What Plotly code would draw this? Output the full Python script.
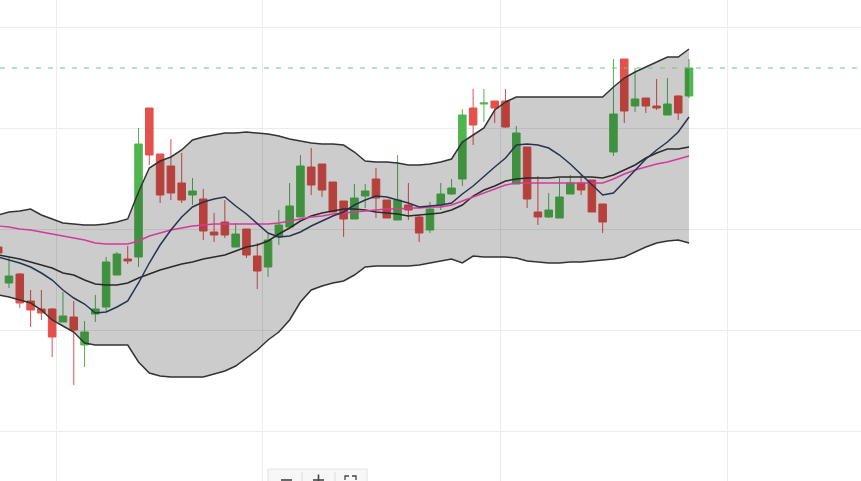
import plotly.graph_objects as go

# ---------------- data ----------------
idx = list(range(65))

opens = [1.1253, 1.1217, 1.1226, 1.1199, 1.1191, 1.1191, 1.1178, 1.1183, 1.1155, 1.1186,
         1.1193, 1.1225, 1.1241, 1.1243, 1.1392, 1.1346, 1.1334, 1.1317, 1.1305, 1.1301,
         1.1268, 1.1278, 1.1253, 1.1271, 1.1244, 1.1233, 1.1263, 1.1273, 1.1283, 1.1333,
         1.1336, 1.1318, 1.1299, 1.1281, 1.1304, 1.1321, 1.1300, 1.1280, 1.1295, 1.1283,
         1.1270, 1.1295, 1.1306, 1.1321, 1.1392, 1.1396, 1.1399, 1.1399, 1.1316, 1.1353,
         1.1288, 1.1283, 1.1282, 1.1306, 1.1317, 1.1320, 1.1296, 1.1348, 1.1441, 1.1394,
         1.1402, 1.1394, 1.1385, 1.1404, 1.1404]
highs = [1.1255, 1.1243, 1.1227, 1.1210, 1.1210, 1.1192, 1.1208, 1.1199, 1.1179, 1.1205,
         1.1243, 1.1248, 1.1254, 1.1372, 1.1392, 1.1346, 1.1361, 1.1347, 1.1322, 1.1311,
         1.1287, 1.1300, 1.1277, 1.1271, 1.1257, 1.1266, 1.1290, 1.1317, 1.1345, 1.1352,
         1.1336, 1.1318, 1.1299, 1.1316, 1.1316, 1.1332, 1.1300, 1.1345, 1.1317, 1.1285,
         1.1298, 1.1317, 1.1321, 1.1391, 1.1411, 1.1411, 1.1399, 1.1411, 1.1374, 1.1353,
         1.1324, 1.1307, 1.1322, 1.1325, 1.1325, 1.1320, 1.1296, 1.1441, 1.1441, 1.1432,
         1.1402, 1.1421, 1.1422, 1.1405, 1.1441]
lows = [1.1245, 1.1212, 1.1192, 1.1173, 1.1180, 1.1143, 1.1178, 1.1115, 1.1133, 1.1178,
        1.1188, 1.1225, 1.1236, 1.1233, 1.1335, 1.1297, 1.1300, 1.1297, 1.1295, 1.1260,
        1.1258, 1.1262, 1.1253, 1.1242, 1.1211, 1.1223, 1.1255, 1.1273, 1.1283, 1.1305,
        1.1303, 1.1288, 1.1263, 1.1281, 1.1292, 1.1282, 1.1282, 1.1280, 1.1280, 1.1258,
        1.1267, 1.1290, 1.1305, 1.1314, 1.1355, 1.1378, 1.1377, 1.1372, 1.1316, 1.1292,
        1.1275, 1.1282, 1.1282, 1.1306, 1.1305, 1.1288, 1.1267, 1.1344, 1.1377, 1.1388,
        1.1387, 1.1390, 1.1385, 1.1380, 1.1402]
closes = [1.1247, 1.1224, 1.1197, 1.1190, 1.1187, 1.1163, 1.1184, 1.1170, 1.1168, 1.1191,
          1.1238, 1.1246, 1.1239, 1.1356, 1.1345, 1.1305, 1.1307, 1.1300, 1.1309, 1.1269,
          1.1265, 1.1265, 1.1266, 1.1245, 1.1229, 1.1260, 1.1275, 1.1294, 1.1334, 1.1315,
          1.1310, 1.1288, 1.1281, 1.1302, 1.1309, 1.1302, 1.1282, 1.1300, 1.1290, 1.1267,
          1.1291, 1.1306, 1.1312, 1.1385, 1.1375, 1.1397, 1.1392, 1.1373, 1.1367, 1.1301,
          1.1283, 1.1290, 1.1303, 1.1317, 1.1310, 1.1288, 1.1278, 1.1386, 1.1389, 1.1401,
          1.1394, 1.1392, 1.1396, 1.1387, 1.1432]

bb_upper = [1.1285, 1.1288, 1.1289, 1.1291, 1.1285, 1.1281, 1.1277, 1.1276, 1.1275, 1.1275,
            1.1276, 1.1278, 1.1281, 1.1308, 1.1332, 1.1339, 1.1343, 1.1350, 1.1360, 1.1363,
            1.1365, 1.1367, 1.1367, 1.1368, 1.1367, 1.1366, 1.1364, 1.1361, 1.1359, 1.1357,
            1.1356, 1.1356, 1.1355, 1.1348, 1.1339, 1.1338, 1.1338, 1.1337, 1.1335, 1.1335,
            1.1336, 1.1338, 1.1341, 1.1358, 1.1365, 1.1372, 1.1390, 1.1398, 1.1403, 1.1403,
            1.1403, 1.1403, 1.1403, 1.1403, 1.1403, 1.1403, 1.1403, 1.1413, 1.1422, 1.1428,
            1.1433, 1.1438, 1.1443, 1.1443, 1.1451]
bb_lower = [1.1205, 1.1203, 1.1200, 1.1197, 1.1190, 1.1180, 1.1174, 1.1168, 1.1157, 1.1155,
            1.1155, 1.1155, 1.1155, 1.1138, 1.1127, 1.1124, 1.1123, 1.1123, 1.1123, 1.1123,
            1.1126, 1.1129, 1.1134, 1.1142, 1.1150, 1.1160, 1.1168, 1.1180, 1.1198, 1.1210,
            1.1214, 1.1217, 1.1219, 1.1225, 1.1233, 1.1234, 1.1234, 1.1234, 1.1234, 1.1235,
            1.1237, 1.1239, 1.1241, 1.1237, 1.1244, 1.1243, 1.1243, 1.1243, 1.1242, 1.1239,
            1.1238, 1.1237, 1.1237, 1.1238, 1.1238, 1.1239, 1.1240, 1.1241, 1.1243, 1.1248,
            1.1253, 1.1257, 1.1259, 1.1260, 1.1257]
bb_mid = [1.1245, 1.1243, 1.1241, 1.1238, 1.1235, 1.1232, 1.1227, 1.1225, 1.1220, 1.1216,
          1.1215, 1.1215, 1.1217, 1.1222, 1.1226, 1.1230, 1.1233, 1.1236, 1.1238, 1.1241,
          1.1243, 1.1245, 1.1249, 1.1253, 1.1255, 1.1259, 1.1266, 1.1272, 1.1279, 1.1284,
          1.1287, 1.1289, 1.1291, 1.1291, 1.1290, 1.1288, 1.1287, 1.1286, 1.1284, 1.1285,
          1.1286, 1.1287, 1.1290, 1.1295, 1.1304, 1.1310, 1.1314, 1.1319, 1.1321, 1.1322,
          1.1322, 1.1322, 1.1323, 1.1323, 1.1323, 1.1323, 1.1322, 1.1325, 1.1330, 1.1335,
          1.1342, 1.1347, 1.1351, 1.1351, 1.1353]
ma_fast = [1.1243, 1.1240, 1.1237, 1.1233, 1.1227, 1.1220, 1.1210, 1.1202, 1.1196, 1.1187,
           1.1188, 1.1193, 1.1199, 1.1217, 1.1237, 1.1255, 1.1270, 1.1283, 1.1293, 1.1298,
           1.1301, 1.1303, 1.1294, 1.1286, 1.1276, 1.1267, 1.1263, 1.1264, 1.1268, 1.1274,
           1.1279, 1.1284, 1.1288, 1.1295, 1.1300, 1.1304, 1.1303, 1.1300, 1.1297, 1.1293,
           1.1294, 1.1295, 1.1297, 1.1306, 1.1314, 1.1324, 1.1333, 1.1342, 1.1355, 1.1356,
           1.1355, 1.1352, 1.1345, 1.1336, 1.1326, 1.1315, 1.1305, 1.1307, 1.1318, 1.1330,
           1.1341, 1.1350, 1.1358, 1.1368, 1.1383]
ma_slow = [1.1274, 1.1273, 1.1271, 1.1270, 1.1268, 1.1266, 1.1264, 1.1262, 1.1260, 1.1257,
           1.1256, 1.1256, 1.1256, 1.1259, 1.1264, 1.1267, 1.1270, 1.1272, 1.1274, 1.1275,
           1.1276, 1.1276, 1.1276, 1.1276, 1.1276, 1.1276, 1.1277, 1.1279, 1.1281, 1.1283,
           1.1284, 1.1286, 1.1287, 1.1288, 1.1289, 1.1290, 1.1291, 1.1291, 1.1292, 1.1292,
           1.1293, 1.1293, 1.1295, 1.1299, 1.1303, 1.1307, 1.1311, 1.1315, 1.1317, 1.1317,
           1.1317, 1.1317, 1.1317, 1.1317, 1.1317, 1.1317, 1.1317, 1.1321, 1.1326, 1.1330,
           1.1333, 1.1336, 1.1338, 1.1341, 1.1344]

grid_x = [5.42, 24.50, 46.49, 67.52]      # month boundaries (index units)
x_range = [0.167, 79.933]
y_range = [1.1019, 1.1500]
grid_y0 = 1.10685
grid_dy = 0.0101

# ---------------- figure ----------------
fig = go.Figure()

fig.add_trace(go.Candlestick(
    x=idx, open=opens, high=highs, low=lows, close=closes,
    increasing=dict(line=dict(color="#4fb64f", width=1), fillcolor="#4fb64f"),
    decreasing=dict(line=dict(color="#e4514c", width=1), fillcolor="#e4514c"),
    whiskerwidth=0, hoverinfo="skip", showlegend=False,
))

band_line = dict(color="#333333", width=1.5)
fig.add_trace(go.Scatter(x=idx, y=bb_lower, mode="lines", line=band_line,
                         hoverinfo="skip", showlegend=False))
fig.add_trace(go.Scatter(x=idx, y=bb_upper, mode="lines", line=band_line,
                         fill="tonexty", fillcolor="rgba(0,0,0,0.2)",
                         hoverinfo="skip", showlegend=False))
fig.add_trace(go.Scatter(x=idx, y=bb_mid, mode="lines",
                         line=dict(color="#2a2a2a", width=1.5),
                         hoverinfo="skip", showlegend=False))
fig.add_trace(go.Scatter(x=idx, y=ma_slow, mode="lines",
                         line=dict(color="#d33a9a", width=1.4),
                         hoverinfo="skip", showlegend=False))
fig.add_trace(go.Scatter(x=idx, y=ma_fast, mode="lines",
                         line=dict(color="#27334f", width=1.5),
                         hoverinfo="skip", showlegend=False))

# last-price dashed line
fig.add_shape(type="line", xref="paper", x0=0, x1=1, yref="y",
              y0=closes[-1], y1=closes[-1],
              line=dict(color="#6cc96c", width=1.2, dash="5px,7px"))

# zoom toolbar (partially visible at the bottom)
W, H = 861.0, 481.0
def px(xp):
    return xp / W
def py(yp):
    return 1 - yp / H

fig.add_shape(type="rect", xref="paper", yref="paper",
              x0=px(268), x1=px(367), y0=py(495), y1=py(469),
              line=dict(color="#e2e2e2", width=1), fillcolor="#f7f7f7", layer="above")
for dx in (302, 335):
    fig.add_shape(type="line", xref="paper", yref="paper",
                  x0=px(dx), x1=px(dx), y0=py(495), y1=py(472),
                  line=dict(color="#dddddd", width=1), layer="above")
icon = dict(color="#444444", width=1.6)
fig.add_shape(type="line", xref="paper", yref="paper", x0=px(281), x1=px(292),
              y0=py(480), y1=py(480), line=icon, layer="above")
fig.add_shape(type="line", xref="paper", yref="paper", x0=px(313), x1=px(324),
              y0=py(480), y1=py(480), line=icon, layer="above")
fig.add_shape(type="line", xref="paper", yref="paper", x0=px(318.5), x1=px(318.5),
              y0=py(474.5), y1=py(486), line=icon, layer="above")
fig.add_shape(type="path", xref="paper", yref="paper", layer="above",
              path=f"M {px(345)} {py(480)} L {px(345)} {py(476)} L {px(349)} {py(476)}",
              line=dict(color="#444444", width=1.3))
fig.add_shape(type="path", xref="paper", yref="paper", layer="above",
              path=f"M {px(352)} {py(476)} L {px(356)} {py(476)} L {px(356)} {py(480)}",
              line=dict(color="#444444", width=1.3))

fig.update_layout(
    width=861, height=481,
    margin=dict(l=0, r=0, t=0, b=0, pad=0),
    paper_bgcolor="white", plot_bgcolor="white",
    showlegend=False, hovermode=False,
    boxgap=0.3, boxgroupgap=0,
    xaxis=dict(range=x_range, tickvals=grid_x, showticklabels=False, ticks="",
               showgrid=True, gridcolor="#ececec", gridwidth=1, zeroline=False,
               showline=False, rangeslider=dict(visible=False), fixedrange=True),
    yaxis=dict(range=y_range, tick0=grid_y0, dtick=grid_dy, tickmode="linear",
               showticklabels=False, ticks="", showgrid=True, gridcolor="#ececec",
               gridwidth=1, zeroline=False, showline=False, fixedrange=True),
)

fig.write_html("out.html", config={"displayModeBar": False})
